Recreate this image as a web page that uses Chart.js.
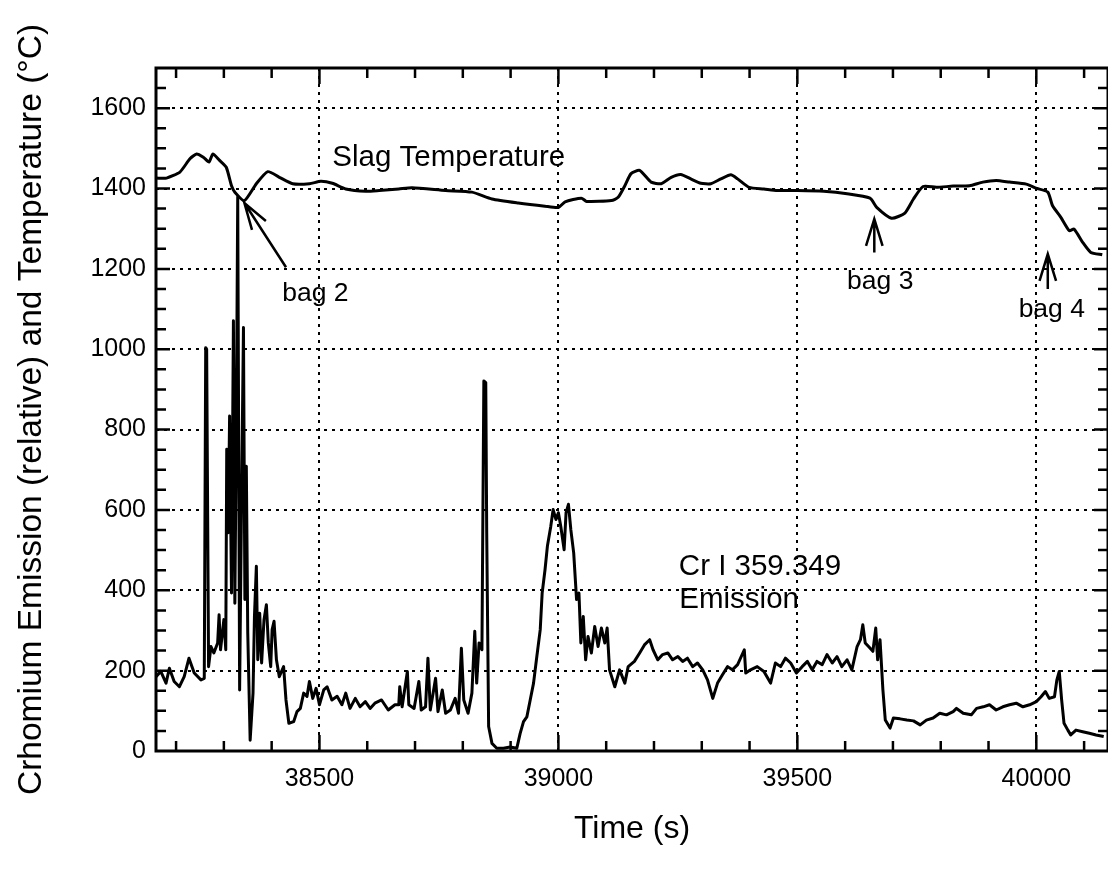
<!DOCTYPE html>
<html>
<head>
<meta charset="utf-8">
<title>Cr emission and slag temperature</title>
<script src="https://cdn.jsdelivr.net/npm/chart.js@4.4.0/dist/chart.umd.min.js"></script>
<style>
  html, body { margin: 0; padding: 0; background: #fff; }
  #wrap { width: 1108px; height: 876px; }
</style>
</head>
<body>
<div id="wrap"><canvas id="chart" width="1108" height="876"></canvas></div>
<script>
// Slag temperature trace (time in s, temperature in degC)
const tempTime = [38158, 38180, 38208, 38229, 38243, 38257, 38269, 38277, 38291, 38305,
  38316, 38323, 38343, 38368, 38392, 38416, 38444, 38479, 38503, 38527,
  38555, 38597, 38625, 38666, 38694, 38764, 38819, 38861, 38916, 38972,
  39000, 39014, 39048, 39059, 39111, 39125, 39139, 39152, 39170, 39194,
  39215, 39236, 39256, 39277, 39298, 39319, 39340, 39361, 39375, 39399,
  39430, 39458, 39500, 39555, 39604, 39652, 39666, 39697, 39725, 39743,
  39763, 39791, 39826, 39860, 39888, 39916, 39944, 39979, 39999, 40024,
  40034, 40051, 40069, 40079, 40097, 40114, 40138];
const tempVal = [1426, 1426, 1441, 1474, 1486, 1478, 1466, 1486, 1470, 1453,
  1407, 1391, 1370, 1412, 1442, 1428, 1412, 1412, 1418, 1413,
  1399, 1393, 1395, 1399, 1402, 1395, 1391, 1374, 1364, 1356,
  1353, 1367, 1376, 1368, 1370, 1378, 1407, 1437, 1445, 1416,
  1412, 1428, 1435, 1424, 1413, 1412, 1424, 1434, 1424, 1403,
  1399, 1395, 1395, 1393, 1387, 1376, 1353, 1326, 1339, 1374,
  1405, 1403, 1406, 1407, 1416, 1420, 1416, 1411, 1401, 1391,
  1357, 1329, 1295, 1299, 1266, 1241, 1235];

// Cr I 359.349 emission (relative)
const crTime = [38158, 38168, 38179, 38186, 38196, 38207, 38217, 38227, 38238, 38252,
  38259, 38262, 38264, 38268, 38273, 38279, 38287, 38290, 38293, 38300,
  38304, 38306, 38309, 38312, 38316, 38320, 38323, 38326, 38329, 38333,
  38337, 38341, 38344, 38347, 38350, 38355, 38361, 38364, 38368, 38371,
  38375, 38379, 38384, 38389, 38393, 38398, 38401, 38405, 38410, 38416,
  38425, 38430, 38436, 38446, 38453, 38460, 38467, 38474, 38479, 38486,
  38493, 38500, 38509, 38516, 38526, 38537, 38547, 38555, 38564, 38575,
  38585, 38596, 38606, 38616, 38630, 38644, 38658, 38666, 38668, 38673,
  38684, 38687, 38698, 38708, 38713, 38722, 38727, 38732, 38743, 38748,
  38757, 38764, 38774, 38784, 38791, 38797, 38802, 38811, 38819, 38825,
  38829, 38834, 38840, 38844, 38848, 38850, 38854, 38861, 38871, 38885,
  38899, 38913, 38920, 38927, 38934, 38941, 38948, 38954, 38962, 38966,
  38972, 38977, 38984, 38989, 38995, 39000, 39005, 39012, 39016, 39021,
  39026, 39032, 39038, 39043, 39047, 39052, 39057, 39062, 39069, 39076,
  39083, 39090, 39097, 39102, 39107, 39118, 39128, 39139, 39146, 39159,
  39170, 39180, 39191, 39198, 39208, 39218, 39229, 39239, 39250, 39260,
  39270, 39281, 39291, 39302, 39312, 39323, 39333, 39343, 39354, 39364,
  39375, 39389, 39392, 39402, 39416, 39430, 39444, 39454, 39465, 39475,
  39486, 39498, 39510, 39521, 39531, 39541, 39552, 39562, 39573, 39583,
  39593, 39604, 39614, 39625, 39632, 39637, 39642, 39649, 39658, 39664,
  39668, 39673, 39679, 39684, 39694, 39701, 39715, 39729, 39743, 39757,
  39770, 39784, 39798, 39812, 39826, 39833, 39847, 39864, 39875, 39889,
  39902, 39916, 39930, 39944, 39958, 39972, 39986, 40000, 40010, 40019,
  40027, 40038, 40043, 40048, 40053, 40058, 40066, 40072, 40083, 40097,
  40111, 40125, 40141];
const crVal = [185, 198, 169, 206, 173, 160, 185, 231, 194, 177,
  181, 1004, 1000, 210, 260, 244, 269, 339, 252, 327,
  252, 751, 543, 834, 393, 1071, 368, 792, 1379, 152,
  626, 1054, 377, 709, 294, 27, 144, 335, 460, 227,
  343, 219, 327, 364, 269, 210, 302, 323, 227, 185,
  210, 127, 69, 73, 98, 106, 144, 136, 173, 131,
  156, 115, 152, 160, 127, 136, 115, 144, 106, 131,
  110, 123, 106, 119, 127, 102, 115, 115, 160, 110,
  198, 115, 106, 173, 102, 110, 231, 102, 181, 98,
  152, 94, 102, 131, 94, 256, 127, 94, 144, 298,
  169, 269, 252, 921, 917, 543, 61, 19, 7, 7,
  10, 7, 44, 73, 85, 127, 169, 227, 302, 393,
  451, 510, 559, 601, 576, 593, 559, 501, 593, 614,
  551, 493, 377, 393, 269, 335, 227, 285, 244, 310,
  260, 306, 269, 306, 202, 160, 202, 169, 210, 223,
  244, 264, 277, 252, 227, 240, 244, 227, 235, 223,
  231, 210, 219, 202, 177, 131, 169, 189, 210, 202,
  215, 252, 194, 202, 210, 198, 169, 219, 210, 231,
  219, 194, 210, 223, 202, 223, 215, 240, 219, 235,
  210, 227, 202, 260, 277, 314, 269, 260, 248, 306,
  227, 277, 152, 77, 57, 82, 80, 77, 75, 65,
  77, 82, 94, 90, 98, 106, 94, 90, 106, 110,
  115, 102, 110, 115, 119, 110, 115, 123, 135, 148,
  131, 135, 177, 198, 127, 69, 52, 40, 52, 48,
  44, 40, 36];

// major tick labels
const xTicks = [38500, 39000, 39500, 40000];
const yTicks = [0, 200, 400, 600, 800, 1000, 1200, 1400, 1600];

const toPoints = (xs, ys) => xs.map((x, i) => ({ x: x, y: ys[i] }));

Chart.defaults.font.family = '"Liberation Sans", Arial, Helvetica, sans-serif';
Chart.defaults.color = '#000';

// text notes and arrows, placed in data coordinates
const notes = [
  { text: 'Slag Temperature', x: 38527, y: 1456, size: 29.5 },
  { text: 'bag 2', x: 38422, y: 1121, size: 26.5 },
  { text: 'bag 3', x: 39604, y: 1150, size: 26.5 },
  { text: 'bag 4', x: 39963, y: 1080, size: 26.5 },
  { text: 'Cr I 359.349', x: 39252, y: 439, size: 29.5 },
  { text: 'Emission', x: 39253, y: 356, size: 29.5 }
];
const arrows = [
  { from: [38430, 1204], to: [38343, 1364] },
  { from: [39661, 1241], to: [39661, 1324] },
  { from: [40024, 1150], to: [40024, 1237] }
];

// box round the plot with inward ticks on all four sides
const frame = {
  id: 'frame',
  afterDraw(chart) {
    const { ctx, chartArea: a, scales: { x, y } } = chart;
    ctx.save();
    ctx.strokeStyle = '#000';
    ctx.lineWidth = 3;
    ctx.strokeRect(a.left, a.top, a.right - a.left, a.bottom - a.top);
    ctx.lineWidth = 2.5;
    ctx.beginPath();
    for (let v = 38200; v < x.max; v += 100) {
      const px = x.getPixelForValue(v);
      const len = v % 500 === 0 ? 16 : 10;
      ctx.moveTo(px, a.bottom); ctx.lineTo(px, a.bottom - len);
      ctx.moveTo(px, a.top); ctx.lineTo(px, a.top + len);
    }
    for (let v = 50; v < y.max; v += 50) {
      const py = y.getPixelForValue(v);
      const len = v % 200 === 0 ? 14 : 10;
      ctx.moveTo(a.left, py); ctx.lineTo(a.left + len, py);
      ctx.moveTo(a.right, py); ctx.lineTo(a.right - len, py);
    }
    ctx.stroke();
    ctx.restore();
  }
};

const notesPlugin = {
  id: 'notes',
  afterDatasetsDraw(chart) {
    const { ctx, scales: { x, y } } = chart;
    ctx.save();
    ctx.fillStyle = '#000';
    ctx.textAlign = 'left';
    ctx.textBaseline = 'alphabetic';
    notes.forEach(n => {
      ctx.font = n.size + 'px "Liberation Sans", Arial, sans-serif';
      ctx.fillText(n.text, x.getPixelForValue(n.x), y.getPixelForValue(n.y));
    });
    ctx.strokeStyle = '#000';
    ctx.lineWidth = 2.5;
    arrows.forEach(ar => {
      const x1 = x.getPixelForValue(ar.from[0]), y1 = y.getPixelForValue(ar.from[1]);
      const x2 = x.getPixelForValue(ar.to[0]), y2 = y.getPixelForValue(ar.to[1]);
      const ang = Math.atan2(y2 - y1, x2 - x1);
      const head = 28, spread = 0.3;
      ctx.beginPath();
      ctx.moveTo(x1, y1); ctx.lineTo(x2, y2);
      ctx.moveTo(x2 - head * Math.cos(ang - spread), y2 - head * Math.sin(ang - spread));
      ctx.lineTo(x2, y2);
      ctx.lineTo(x2 - head * Math.cos(ang + spread), y2 - head * Math.sin(ang + spread));
      ctx.stroke();
    });
    ctx.restore();
  }
};

const gridOpts = { color: '#000', lineWidth: 2, drawTicks: false };
const plainNumber = v => String(v);

new Chart(document.getElementById('chart').getContext('2d'), {
  type: 'line',
  data: {
    datasets: [
      {
        label: 'Slag Temperature',
        data: toPoints(tempTime, tempVal),
        borderColor: '#000',
        borderWidth: 3,
        pointRadius: 0,
        tension: 0.2
      },
      {
        label: 'Cr I 359.349 Emission',
        data: toPoints(crTime, crVal),
        borderColor: '#000',
        borderWidth: 3,
        borderJoinStyle: 'round',
        pointRadius: 0,
        tension: 0
      }
    ]
  },
  options: {
    responsive: false,
    animation: false,
    events: [],
    layout: { padding: { top: 68, right: -3, left: 0, bottom: 0 } },
    plugins: { legend: { display: false }, tooltip: { enabled: false } },
    scales: {
      x: {
        type: 'linear',
        min: 38158,
        max: 40150,
        afterBuildTicks: s => { s.ticks = xTicks.map(v => ({ value: v })); },
        afterFit: s => { s.height = 125; },
        ticks: { font: { size: 25 }, padding: 13, maxRotation: 0, autoSkip: false, callback: plainNumber },
        grid: gridOpts,
        border: { display: false, dash: [3, 5] },
        title: { display: true, text: 'Time (s)', font: { size: 32 }, padding: { top: 0, bottom: 28 } }
      },
      y: {
        min: 0,
        max: 1700,
        afterBuildTicks: s => { s.ticks = yTicks.map(v => ({ value: v })); },
        afterFit: s => { s.width = 156; },
        ticks: { font: { size: 25 }, padding: 10, callback: plainNumber },
        grid: gridOpts,
        border: { display: false, dash: [3, 5] },
        title: {
          display: true,
          text: 'Crhomium Emission (relative) and Temperature (°C)',
          font: { size: 33.5 },
          padding: { top: 12, bottom: 0 }
        }
      }
    }
  },
  plugins: [frame, notesPlugin]
});
</script>
</body>
</html>
